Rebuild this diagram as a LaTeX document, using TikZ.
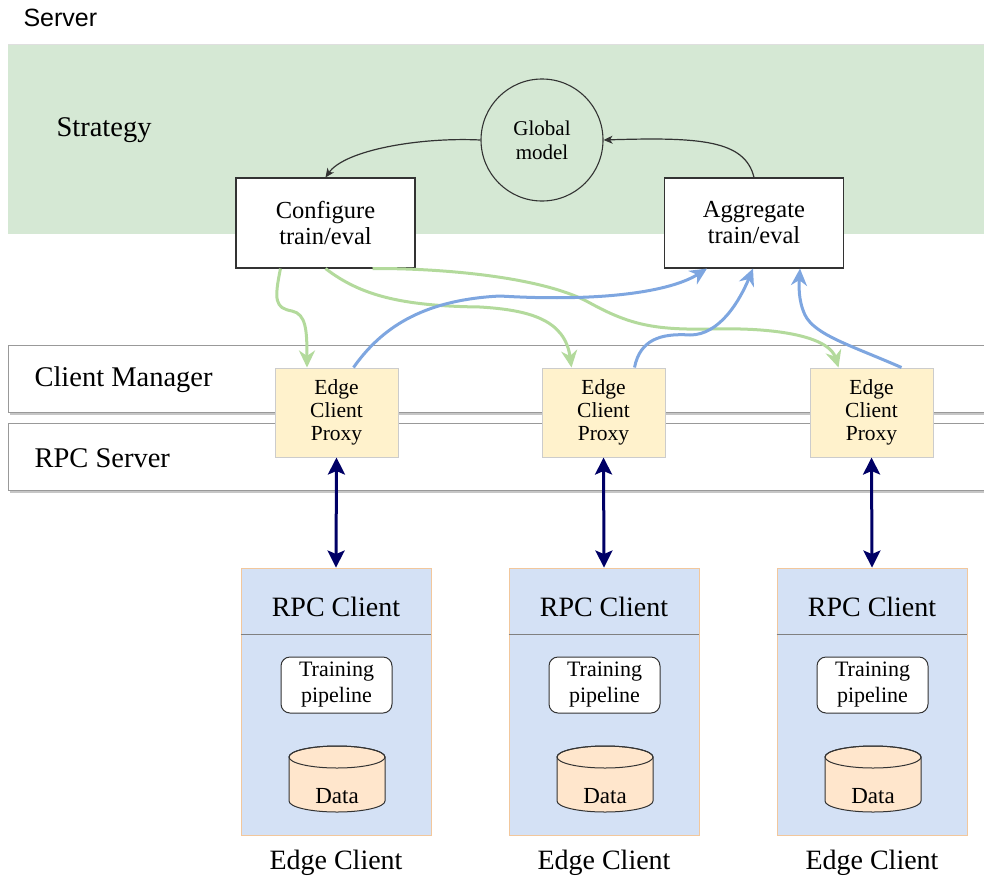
\documentclass[tikz,border=0pt]{standalone}
\usepackage{fontspec}
\setmainfont{Liberation Serif}
\newfontfamily\sansf{Liberation Sans}
\usetikzlibrary{arrows.meta}
\definecolor{stratgreen}{HTML}{D5E8D4}
\definecolor{greenline}{HTML}{B3DA9C}
\definecolor{blueline}{HTML}{7EA6E0}
\definecolor{navyline}{HTML}{000066}
\definecolor{proxyfill}{HTML}{FFF2CC}
\definecolor{proxyedge}{HTML}{CCCCCC}
\definecolor{clientfill}{HTML}{D4E1F5}
\definecolor{clientedge}{HTML}{F2C79C}
\definecolor{datafill}{HTML}{FFE6CC}
\definecolor{darkline}{HTML}{333333}
\newcommand{\fs}[2]{\fontsize{#1}{#2}\selectfont}
\tikzset{
  stepbox/.style={draw=darkline, line width=1.1pt, fill=white, minimum width=179pt,
    minimum height=90pt, align=center, font=\fs{24.5}{26}, inner sep=0pt},
  bandbox/.style={draw=gray!80, line width=0.8pt, fill=white, anchor=north west,
    minimum width=976pt, minimum height=67pt, inner sep=0pt},
  bandshadow/.style={fill=gray!45, anchor=north west,
    minimum width=976pt, minimum height=67pt, inner sep=0pt},
  bandlabel/.style={anchor=west, font=\fs{28.5}{30}},
  proxybox/.style={draw=proxyedge, line width=1pt, fill=proxyfill, minimum width=123pt,
    minimum height=89pt, align=center, font=\fs{21.5}{23}, inner sep=0pt},
  clientbox/.style={draw=clientedge, line width=0.9pt, fill=clientfill, minimum width=190pt,
    minimum height=267pt, inner sep=0pt},
  pipebox/.style={draw=darkline, line width=1pt, fill=white, rounded corners=9pt,
    minimum width=111pt, minimum height=56pt, align=center, font=\fs{22}{26}, inner sep=0pt},
  biglabel/.style={font=\fs{28}{30}},
  greenarrow/.style={draw=greenline, line width=3pt,
    -{Stealth[length=17pt,width=16pt,inset=5.5pt]}},
  bluearrow/.style={draw=blueline, line width=3pt,
    -{Stealth[length=17pt,width=16pt,inset=5.5pt]}},
  blackarrow/.style={draw=darkline, line width=1.2pt,
    -{Stealth[length=9pt,width=8pt,inset=2.5pt]}},
  navyarrow/.style={draw=navyline, line width=3pt,
    {Stealth[length=17pt,width=17pt,inset=3.5pt]}-{Stealth[length=17pt,width=17pt,inset=3.5pt]}},
  datacyl/.style={draw=darkline, line width=1pt, fill=datafill}
}
\begin{document}
\begin{tikzpicture}[x=1pt,y=-1pt]
\useasboundingbox (0,0) rectangle (984,881);

% server heading and strategy layer
\node[anchor=west, font=\sansf\fs{25}{28}] (server) at (20,18) {Server};
\node[fill=stratgreen, anchor=north west, minimum width=976pt, minimum height=190pt, inner sep=0pt] (strategy) at (8,44) {};
\draw[gray!25, line width=1pt] (strategy.north west) -- (strategy.north east);
\node[anchor=west, font=\fs{28.5}{30}] (stratlabel) at (53,130) {Strategy};

\node[circle, draw=darkline, line width=1.1pt, minimum size=122pt, inner sep=0pt,
      align=center, font=\fs{21}{24}] (gm) at (542,140) {Global\\model};
\node[stepbox] (cfg) at (325.5,223) {Configure\\train/eval};
\node[stepbox] (agg) at (754,223) {Aggregate\\train/eval};

% client manager and rpc server layers
\node[bandshadow] (cmshadow) at (10,348) {};
\node[bandbox] (cm) at (8,345) {};
\node[bandlabel] (cmlabel) at (31,380) {Client Manager};
\node[bandshadow] (rpcshadow) at (10,426) {};
\node[bandbox] (rpc) at (8,423) {};
\node[bandlabel] (rpclabel) at (31,458) {RPC Server};

% proxies
\node[proxybox] (p1) at (336.5,412.5) {Edge\\Client\\Proxy};
\node[proxybox] (p2) at (603.5,412.5) {Edge\\Client\\Proxy};
\node[proxybox] (p3) at (871.5,412.5) {Edge\\Client\\Proxy};

% edge clients
\foreach \i/\cx in {1/336, 2/604, 3/872} {
  \node[clientbox] (e\i) at (\cx,701.5) {};
  \draw[gray, line width=0.8pt] ([yshift=-67pt]e\i.north west) -- ([yshift=-67pt]e\i.north east);
  \node[biglabel] (rpcc\i) at (\cx,607) {RPC Client};
  \node[pipebox] (tp\i) at (\cx+0.5,685) {Training\\pipeline};
  % data store cylinder
  \path[datacyl] (\cx-47,757) -- (\cx-47,801)
     arc[start angle=180, end angle=360, x radius=48pt, y radius=11pt]
     -- (\cx+49,757)
     arc[start angle=0, end angle=180, x radius=48pt, y radius=11pt] -- cycle;
  \draw[darkline, line width=1pt] (\cx+1,757) ellipse[x radius=48pt, y radius=11pt];
  \node[font=\fs{23}{26}] (data\i) at (\cx+1,796) {Data};
  \node[biglabel] (ec\i) at (\cx,863) {Edge Client};
  \draw[navyarrow] (p\i.south) -- (e\i.north);
}

% strategy loop
\draw[blackarrow] (gm.west) .. controls (420,137) and (345,150) .. (cfg.north);
\draw[blackarrow] (agg.north) .. controls (745,140) and (700,137) .. (gm.east);

% configure -> proxies
\draw[greenarrow] ([xshift=-45pt]cfg.south) .. controls (274,300) and (275,308) .. (292,311)
   .. controls (306,314) and (307,330) .. ([xshift=-29.5pt]p1.north);
\draw[greenarrow] (cfg.south) .. controls (360,295) and (400,306) .. (480,307)
   .. controls (530,310) and (565,320) .. ([xshift=-32pt]p2.north);
\draw[greenarrow] ([xshift=47pt]cfg.south) .. controls (430,268) and (540,275) .. (590,303)
   .. controls (630,325) and (655,330) .. (710,329)
   .. controls (790,327) and (830,340) .. ([xshift=-33pt]p3.north);

% proxies -> aggregate
\draw[bluearrow] ([xshift=17pt]p1.north) .. controls (380,330) and (420,300) .. (500,296)
   .. controls (600,302) and (670,292) .. ([xshift=-47pt]agg.south);
\draw[bluearrow] ([xshift=31pt]p2.north) .. controls (640,340) and (660,333) .. (690,335)
   .. controls (720,335) and (740,300) .. ([xshift=-1pt]agg.south);
\draw[bluearrow] ([xshift=30pt]p3.north) .. controls (850,345) and (815,335) .. (805,315)
   .. controls (798,300) and (799,285) .. ([xshift=46pt]agg.south);
\end{tikzpicture}
\end{document}
